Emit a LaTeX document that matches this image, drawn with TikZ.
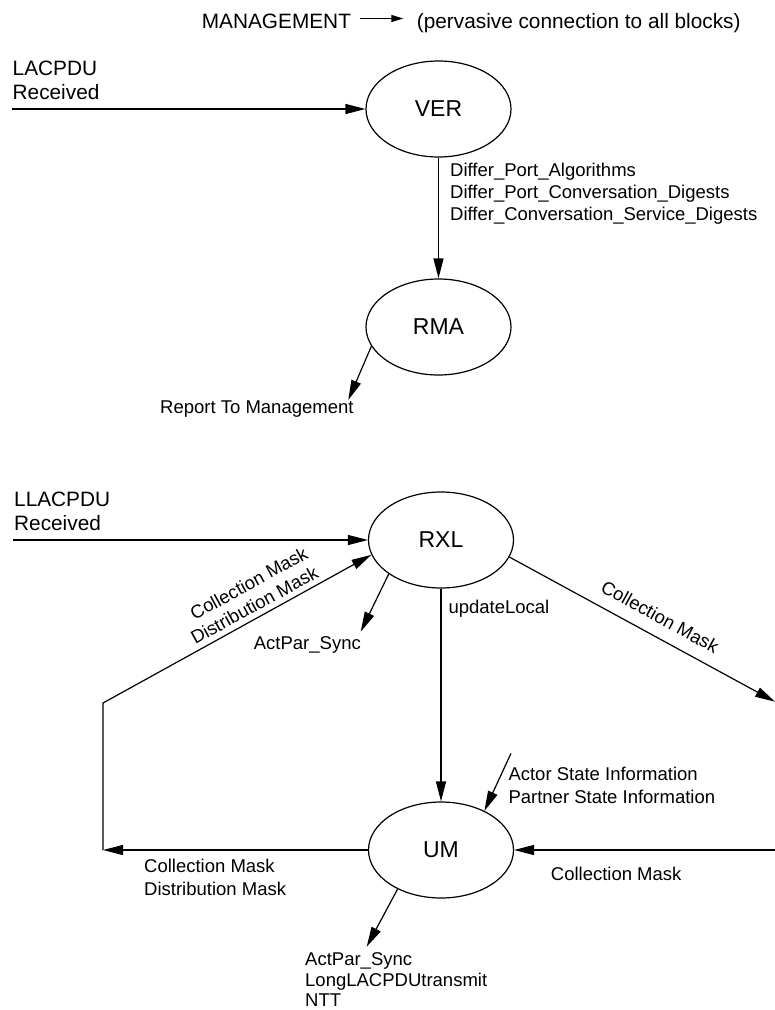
\documentclass[tikz,border=0pt]{standalone}
\usepackage{fontspec}
\setmainfont{Liberation Sans}
\usetikzlibrary{shapes.geometric,arrows.meta}
\begin{document}
\begin{tikzpicture}[x=1pt,y=-1pt,
  proc/.style={ellipse,draw,line width=1.2pt,minimum width=145pt,minimum height=96pt,inner sep=0pt,font=\fontsize{23}{27}\selectfont},
  flow/.style={line width=1.2pt,-{Triangle[length=20pt,width=10pt]}},
  smallflow/.style={line width=1.2pt,-{Triangle[length=12pt,width=7pt]}},
  biglbl/.style={inner sep=0pt,align=left,font=\fontsize{20.8}{23.8}\selectfont},
  lbl/.style={inner sep=0pt,align=left,font=\fontsize{18.5}{21.8}\selectfont},
]
\useasboundingbox (0,0) rectangle (775,1010);

% process blocks
\node[proc] (ver) at (438.5,109) {VER};
\node[proc] (rma) at (438.5,327) {RMA};
\node[proc] (rxl) at (441,540) {RXL};
\node[proc] (um)  at (441,850) {UM};

% header (multi-line labels are placed by the baseline of their last line)
\node[biglbl,anchor=base west] (mgmt) at (201.7,28.3) {MANAGEMENT};
\node[biglbl,anchor=base west] (perv) at (416.7,28.3) {(pervasive connection to all blocks)};
\coordinate (m1) at (360,18.5);
\coordinate (m2) at (403.3,18.5);
\draw[smallflow] (m1) -- (m2);

% upper machine
\node[biglbl,anchor=base west] (lacpdu) at (12.5,99.3) {LACPDU\\Received};
\coordinate (lin) at (12,109);
\draw[flow] (lin) -- (ver.west);

\draw[flow] (ver.south) -- (rma.north);
\node[lbl,anchor=base west] (differ) at (450,220.2)
  {Differ\_Port\_Algorithms\\Differ\_Port\_Conversation\_Digests\\Differ\_Conversation\_Service\_Digests};

\coordinate (rep) at (348.3,400);
\draw[flow] (rma.196.8) -- (rep);
\node[lbl,anchor=base west] (replbl) at (160,413.3) {Report To Management};

% lower machine
\node[biglbl,anchor=base west] (llacpdu) at (14,530.3) {LLACPDU\\Received};
\coordinate (lin2) at (13,540);
\draw[flow] (lin2) -- (rxl.west);

\coordinate (aps1tip) at (360.7,631.7);
\draw[flow] (rxl.213.1) -- (aps1tip);
\node[lbl,anchor=base east] (aps1) at (361,649.9) {ActPar\_Sync};

% feedback loop UM -> RXL
\coordinate (lc1) at (103,850);
\coordinate (lc2) at (103,703);
\draw[flow] (um.west) -- (lc1);
\draw[flow] (lc1) -- (lc2) -- (rxl.192.4);
\node[lbl,anchor=base east,align=right,rotate=28.7] (fbl) at (319.9,576.7)
  {Collection Mask\\Distribution Mask};
\node[lbl,anchor=base west,font=\fontsize{18.5}{22.3}\selectfont] (cdl) at (144,895)
  {Collection Mask\\Distribution Mask};

% RXL -> UM
\draw[flow] (rxl.south) -- (um.north);
\node[lbl,anchor=base west] (updl) at (448.3,613.3) {updateLocal};

% loop through the right edge
\coordinate (rc1) at (775,701.7);
\coordinate (rc2) at (775,850);
\draw[flow] (rxl.346.8) -- (rc1);
\node[lbl,anchor=base,rotate=-28.7] (cml) at (656.9,622.5) {Collection Mask};
\draw[flow] (rc2) -- (um.east);
\node[lbl,anchor=base west] (cmr) at (550.7,880) {Collection Mask};

% state information input
\coordinate (actsrc) at (511,753.3);
\draw[flow] (actsrc) -- (um.42.8);
\node[lbl,anchor=base west,font=\fontsize{18.5}{23.7}\selectfont] (actor) at (508.3,803.7)
  {Actor State Information\\Partner State Information};

% UM outputs
\coordinate (umtip) at (366.7,946.7);
\draw[flow] (um.222.1) -- (umtip);
\node[lbl,anchor=base west,font=\fontsize{18.5}{20.5}\selectfont] (umout) at (305,1006.5)
  {ActPar\_Sync\\LongLACPDUtransmit\\NTT};
\end{tikzpicture}
\end{document}
